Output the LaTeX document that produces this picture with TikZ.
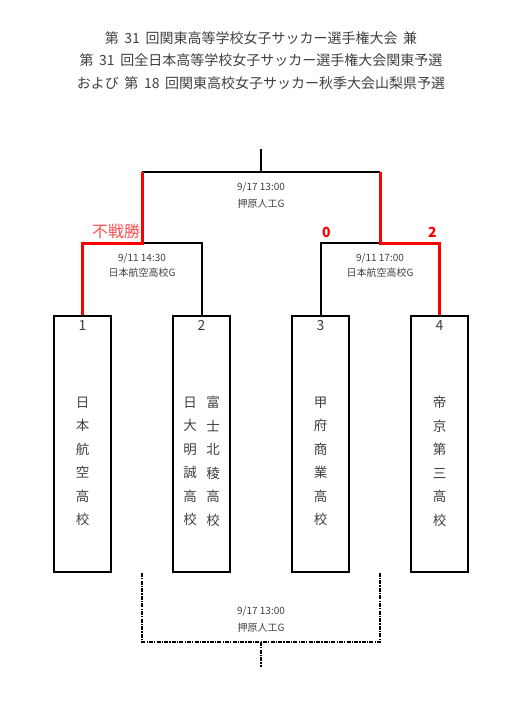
\documentclass[tikz,border=0pt]{standalone}
\usepackage{fontspec}
\setmainfont{Noto Sans CJK JP}
\usetikzlibrary{positioning}
\definecolor{txt}{HTML}{404040}
\definecolor{win}{HTML}{FF0000}
\definecolor{bye}{HTML}{FF4F4F}
\newcommand{\gap}{\hspace{0.4em}}

\begin{document}
\begin{tikzpicture}[x=1pt,y=-1pt,
    every node/.style={text=txt,inner sep=0pt},
    headline/.style={font=\fontsize{14}{16}\selectfont},
    teambox/.style={draw,line width=2.4pt,minimum width=57pt,minimum height=256pt},
    teamno/.style={font=\fontsize{14}{16}\selectfont},
    school/.style={align=center,font=\fontsize{13.5}{23.5}\selectfont},
    info/.style={font=\fontsize{10}{12}\selectfont},
    score/.style={text=win,font=\bfseries\fontsize{14}{16}\selectfont},
    lnk/.style={line width=2pt},
    redlnk/.style={line width=3pt,win},
    thirdlnk/.style={line width=2pt,dash pattern=on 4pt off 1.2pt on 1.2pt off 1.2pt}]
  \useasboundingbox (0,0) rectangle (515,711);

  % title
  \node[headline] (h1) at (261,38) {第\gap{}31\gap{}回関東高等学校女子サッカー選手権大会\gap{}兼};
  \node[headline] (h2) at (261,60) {第\gap{}31\gap{}回全日本高等学校女子サッカー選手権大会関東予選};
  \node[headline] (h3) at (261,83) {および\gap{}第\gap{}18\gap{}回関東高校女子サッカー秋季大会山梨県予選};

  % teams
  \node[teambox] (b1) at (82.5,444) {};
  \node[teambox] (b2) at (201.5,444) {};
  \node[teambox] (b3) at (320.5,444) {};
  \node[teambox] (b4) at (439.5,444) {};
  \foreach \i in {1,...,4}
    \node[teamno,below=5.5pt of b\i.north] (n\i) {\i};
  \node[school] (m1) at (82.5,461.5) {日\\本\\航\\空\\高\\校};
  \node[school] (m2a) at (213,461.5) {富\\士\\北\\稜\\高\\校};
  \node[school] (m2b) at (190,461.5) {日\\大\\明\\誠\\高\\校};
  \node[school] (m3) at (320.5,461.5) {甲\\府\\商\\業\\高\\校};
  \node[school] (m4) at (439.5,461.5) {帝\\京\\第\\三\\高\\校};

  % bracket
  \coordinate (sL) at (142,243);
  \coordinate (sR) at (380,243);
  \coordinate (fL) at (142,172);
  \coordinate (fR) at (380,172);
  \coordinate (fM) at (261,172);
  \coordinate (top) at (261,149);
  \draw[lnk] (sL) -- (b2.north |- sL) -- (b2.north);
  \draw[lnk] (b3.north) -- (b3.north |- sR) -- (sR);
  \draw[lnk] (fL) -- (fR);
  \draw[lnk] (fM) -- (top);
  \draw[redlnk] (b1.north) -- (b1.north |- sL) -- (sL) -- (fL);
  \draw[redlnk] (b4.north) -- (b4.north |- sR) -- (sR) -- (fR);

  \node[info] (d1) at (142,258) {9/11 14:30};
  \node[info] (v1) at (142,273) {日本航空高校G};
  \node[info] (d2) at (380,258) {9/11 17:00};
  \node[info] (v2) at (380,273) {日本航空高校G};
  \node[info] (d3) at (261,187) {9/17 13:00};
  \node[info] (v3) at (261,204) {押原人工G};
  \node[text=bye,font=\fontsize{16}{18}\selectfont] (w1) at (116,231) {不戦勝};
  \node[score] (s3) at (326.5,232) {0};
  \node[score] (s4) at (432.5,232) {2};

  % 3rd place
  \coordinate (pL) at (142,573);
  \coordinate (pR) at (380,573);
  \coordinate (qL) at (142,642);
  \coordinate (qR) at (380,642);
  \coordinate (qM) at (261,642);
  \coordinate (bot) at (261,667);
  \draw[thirdlnk] (pL) -- (qL) -- (qR) -- (pR);
  \draw[thirdlnk] (qM) -- (bot);
  \node[info] (d4) at (261,611) {9/17 13:00};
  \node[info] (v4) at (261,628) {押原人工G};
\end{tikzpicture}
\end{document}
